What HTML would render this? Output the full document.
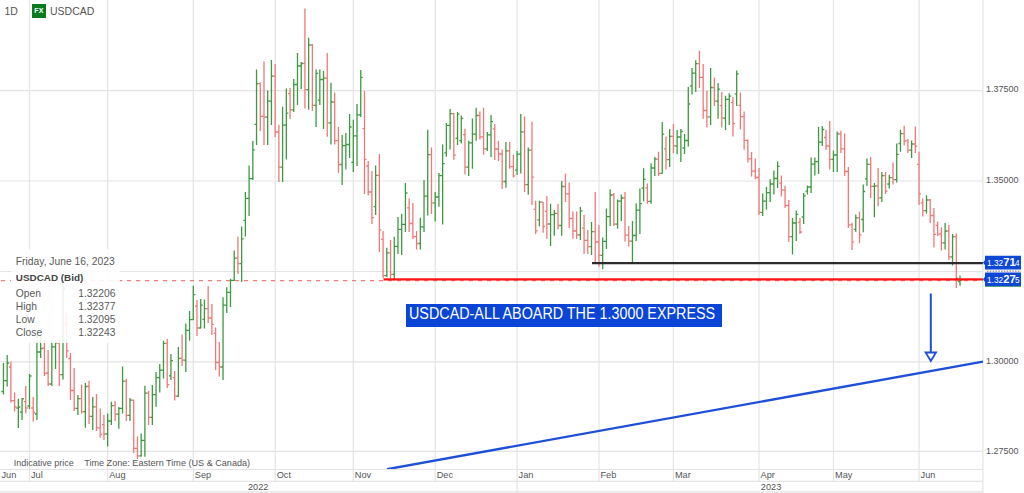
<!DOCTYPE html>
<html><head><meta charset="utf-8"><style>
html,body{margin:0;padding:0;background:#fff;}
body{width:1024px;height:493px;overflow:hidden;position:relative;font-family:"Liberation Sans",sans-serif;}
div{font-family:"Liberation Sans",sans-serif;}
</style></head><body>
<svg width="1024" height="493" viewBox="0 0 1024 493" style="position:absolute;left:0;top:0">
<rect x="0" y="490.9" width="983.5" height="2.1" fill="#ececec"/>
<path d="M29.5 0V481M107.7 0V481M193.3 0V481M275.2 0V481M353.3 0V481M435.2 0V481M517.1 0V481M599.0 0V481M673.4 0V481M759.0 0V481M833.5 0V481M919.1 0V481M0 90.6H982.9M0 181.0H982.9M0 271.5H982.9M0 361.9H982.9M0 451.4H982.9M0 469.5H982.9M0 481.4H982.9M982.9 0V492M517.1 481V492" stroke="#e4e4e4" stroke-width="1.2" fill="none"/>
<path d="M0 280.6H982.9" stroke="#f08080" stroke-width="1.4" stroke-dasharray="4.3 4.7" stroke-dashoffset="-0.9" fill="none"/>
<path d="M3.45 363.0V394.5M1.45 391.5H3.45M3.45 380.6H5.45M7.17 355.0V386.6M5.17 380.6H7.17M7.17 363.0H9.17M18.33 398.8V428.0M16.33 408.0H18.33M18.33 407.0H20.33M22.06 398.0V420.0M20.06 412.0H22.06M22.06 398.8H24.06M29.50 374.0V409.0M27.50 406.0H29.50M29.50 376.0H31.50M36.94 335.0V420.0M34.94 414.0H36.94M36.94 352.0H38.94M40.67 336.0V358.0M38.67 352.0H40.67M40.67 348.6H42.67M51.83 340.0V386.0M49.83 384.0H51.83M51.83 346.8H53.83M55.55 340.0V369.0M53.55 346.8H55.55M55.55 342.8H57.55M63.00 282.0V379.5M61.00 374.7H63.00M63.00 289.0H65.00M77.89 395.0V415.0M75.89 408.4H77.89M77.89 398.6H79.89M85.33 383.0V427.7M83.33 411.7H85.33M85.33 386.5H87.33M92.77 397.0V430.0M90.77 416.3H92.77M92.77 406.8H94.77M107.66 413.6V446.6M105.66 434.0H107.66M107.66 421.0H109.66M111.38 401.7V425.0M109.38 421.0H111.38M111.38 405.6H113.38M118.83 407.0V428.8M116.83 414.1H118.83M118.83 408.4H120.83M122.55 366.6V413.6M120.55 408.4H122.55M122.55 381.1H124.55M129.99 398.0V421.0M127.99 415.3H129.99M129.99 400.1H131.99M141.16 433.4V456.8M139.16 455.8H141.16M141.16 440.3H143.16M144.88 385.7V456.8M142.88 440.3H144.88M144.88 393.1H146.88M152.33 385.0V425.0M150.33 417.3H152.33M152.33 394.7H154.33M156.05 372.0V406.8M154.05 394.7H156.05M156.05 377.6H158.05M159.77 364.0V392.6M157.77 377.6H159.77M159.77 370.1H161.77M163.49 340.8V378.5M161.49 370.1H163.49M163.49 343.4H165.49M170.94 354.0V380.0M168.94 375.8H170.94M170.94 360.6H172.94M178.38 347.0V397.0M176.38 396.2H178.38M178.38 358.3H180.38M185.82 323.5V372.0M183.82 360.1H185.82M185.82 330.3H187.82M189.55 311.0V340.8M187.55 330.3H189.55M189.55 319.6H191.55M193.27 285.7V320.0M191.27 319.6H193.27M193.27 294.6H195.27M200.71 299.0V328.6M198.71 328.0H200.71M200.71 305.1H202.71M204.43 299.6V328.6M202.43 319.4H204.43M204.43 308.7H206.43M223.04 297.3V380.0M221.04 367.0H223.04M223.04 305.2H225.04M226.77 287.3V313.0M224.77 305.2H226.77M226.77 292.4H228.77M230.49 278.7V307.0M228.49 292.4H230.49M230.49 280.4H232.49M234.21 250.4V281.0M232.21 280.4H234.21M234.21 258.1H236.21M241.65 226.5V282.0M239.65 263.6H241.65M241.65 238.8H243.65M245.38 192.0V236.6M243.38 220.4H245.38M245.38 198.4H247.38M249.10 165.6V216.0M247.10 198.4H249.10M249.10 178.6H251.10M252.82 141.0V180.0M250.82 178.6H252.82M252.82 149.9H254.82M256.54 69.5V145.0M254.54 124.3H256.54M256.54 83.6H258.54M267.71 90.6V145.0M265.71 117.1H267.71M267.71 101.1H269.71M271.43 60.0V125.0M269.43 101.1H271.43M271.43 76.2H273.43M282.60 106.8V182.0M280.60 167.2H282.60M282.60 125.2H284.60M286.32 88.5V159.5M284.32 125.2H286.32M286.32 113.2H288.32M293.76 79.0V112.0M291.76 109.8H293.76M293.76 84.5H295.76M297.48 53.0V105.0M295.48 84.5H297.48M297.48 66.0H299.48M301.21 62.0V89.0M299.21 66.0H301.21M301.21 63.5H303.21M308.65 37.8V109.8M306.65 89.6H308.65M308.65 45.0H310.65M316.09 69.5V127.0M314.09 105.3H316.09M316.09 73.4H318.09M319.82 69.5V105.0M317.82 100.1H319.82M319.82 79.5H321.82M323.54 71.0V129.0M321.54 79.5H323.54M323.54 78.2H325.54M330.98 82.8V144.5M328.98 122.8H330.98M330.98 102.0H332.98M342.15 135.0V185.0M340.15 164.5H342.15M342.15 145.7H344.15M345.87 133.0V169.6M343.87 145.7H345.87M345.87 144.5H347.87M349.59 114.0V158.0M347.59 144.5H349.59M349.59 127.0H351.59M353.31 119.8V172.0M351.31 162.4H353.31M353.31 135.9H355.31M357.04 104.0V166.0M355.04 135.9H357.04M357.04 114.8H359.04M360.76 70.0V117.0M358.76 114.8H360.76M360.76 77.4H362.76M375.65 165.6V215.0M373.65 206.6H375.65M375.65 175.3H377.65M386.81 247.7V277.0M384.81 275.6H386.81M386.81 252.8H388.81M394.26 236.7V280.5M392.26 274.4H394.26M394.26 246.3H396.26M397.98 217.0V254.0M395.98 246.3H397.98M397.98 229.4H399.98M401.70 213.8V254.9M399.70 229.4H401.70M401.70 224.4H403.70M405.42 183.0V232.0M403.42 224.4H405.42M405.42 193.0H407.42M420.31 217.8V249.4M418.31 243.5H420.31M420.31 226.8H422.31M424.03 180.0V232.0M422.03 226.8H424.03M424.03 196.2H426.03M427.75 129.7V215.6M425.75 196.2H427.75M427.75 154.6H429.75M435.20 192.0V221.5M433.20 202.8H435.20M435.20 197.0H437.20M438.92 173.0V206.8M436.92 197.0H438.92M438.92 175.7H440.92M442.64 144.4V224.4M440.64 175.7H442.64M442.64 163.6H444.64M446.36 123.0V156.8M444.36 152.8H446.36M446.36 125.4H448.36M450.09 109.0V149.4M448.09 125.4H450.09M450.09 113.6H452.09M457.53 112.0V145.0M455.53 138.3H457.53M457.53 114.2H459.53M461.25 115.6V143.5M459.25 140.7H461.25M461.25 118.3H463.25M468.70 140.8V176.0M466.70 167.1H468.70M468.70 142.8H470.70M472.42 118.4V168.7M470.42 142.8H472.42M472.42 134.1H474.42M476.14 107.8V140.8M474.14 134.1H476.14M476.14 115.5H478.14M487.31 132.0V151.0M485.31 148.8H487.31M487.31 134.9H489.31M491.03 115.0V157.0M489.03 134.9H491.03M491.03 121.7H493.03M505.92 142.0V187.7M503.92 181.5H505.92M505.92 150.9H507.92M517.08 151.0V175.0M515.08 170.1H517.08M517.08 154.1H519.08M520.80 114.0V173.5M518.80 154.1H520.80M520.80 131.8H522.80M528.25 147.5V194.7M526.25 184.6H528.25M528.25 150.2H530.25M539.41 200.7V226.6M537.41 219.8H539.41M539.41 202.2H541.41M550.58 203.8V246.0M548.58 224.0H550.58M550.58 214.7H552.58M554.30 210.0V235.7M552.30 214.7H554.30M554.30 213.3H556.30M561.75 181.0V235.7M559.75 225.5H561.75M561.75 186.5H563.75M580.36 207.0V240.0M578.36 234.9H580.36M580.36 210.9H582.36M591.52 222.0V255.0M589.52 246.7H591.52M591.52 231.6H593.52M602.69 237.6V269.3M600.69 255.4H602.69M602.69 241.3H604.69M606.41 208.4V249.0M604.41 241.3H606.41M606.41 216.7H608.41M610.13 189.3V226.0M608.13 216.7H610.13M610.13 195.0H612.13M617.58 199.5V228.7M615.58 224.1H617.58M617.58 201.2H619.58M621.30 194.4V221.0M619.30 201.2H621.30M621.30 198.0H623.30M632.46 221.0V264.0M630.46 241.1H632.46M632.46 235.5H634.46M636.19 203.3V241.0M634.19 235.5H636.19M636.19 210.2H638.19M639.91 188.6V234.0M637.91 210.2H639.91M639.91 203.6H641.91M643.63 168.3V201.3M641.63 188.2H643.63M643.63 179.4H645.63M651.07 163.2V203.8M649.07 201.4H651.07M651.07 168.0H653.07M654.80 157.0V176.0M652.80 168.0H654.80M654.80 159.1H656.80M662.24 122.0V173.4M660.24 173.3H662.24M662.24 134.2H664.24M669.68 129.0V167.0M667.68 159.6H669.68M669.68 136.4H671.68M677.13 130.0V154.3M675.13 145.9H677.13M677.13 137.0H679.13M680.85 129.0V162.0M678.85 137.0H680.85M680.85 131.5H682.85M684.57 134.0V154.0M682.57 148.0H684.57M684.57 140.5H686.57M688.29 87.0V146.6M686.29 140.5H688.29M688.29 104.0H690.29M692.02 68.0V94.6M690.02 86.0H692.02M692.02 73.1H694.02M695.74 60.3V92.0M693.74 73.1H695.74M695.74 63.6H697.74M710.63 68.0V125.0M708.63 116.9H710.63M710.63 87.5H712.63M718.07 83.0V118.7M716.07 101.2H718.07M718.07 89.1H720.07M725.51 95.8V130.0M723.51 118.1H725.51M725.51 99.3H727.51M729.24 93.3V125.0M727.24 99.3H729.24M729.24 96.1H731.24M736.68 70.5V106.0M734.68 93.9H736.68M736.68 73.8H738.68M762.73 193.5V216.0M760.73 212.4H762.73M762.73 201.2H764.73M766.46 187.0V209.8M764.46 201.2H766.46M766.46 192.6H768.46M770.18 179.3V202.0M768.18 192.6H770.18M770.18 184.0H772.18M773.90 170.5V194.6M771.90 184.0H773.90M773.90 178.5H775.90M777.62 161.5V188.0M775.62 178.5H777.62M777.62 166.3H779.62M792.51 218.0V254.5M790.51 236.7H792.51M792.51 223.0H794.51M796.23 210.6V241.0M794.23 223.0H796.23M796.23 214.3H798.23M803.68 193.0V224.0M801.68 217.0H803.68M803.68 195.8H805.68M807.40 185.6V194.4M805.40 191.1H807.40M807.40 187.0H809.40M811.12 157.6V193.0M809.12 187.0H811.12M811.12 164.2H813.12M814.84 157.6V175.5M812.84 164.2H814.84M814.84 161.6H816.84M818.56 127.0V174.0M816.56 161.6H818.56M818.56 142.1H820.56M822.29 126.0V146.0M820.29 142.1H822.29M822.29 129.5H824.29M833.45 150.5V172.0M831.45 159.4H833.45M833.45 155.0H835.45M837.17 131.5V172.0M835.17 155.0H837.17M837.17 133.8H839.17M855.78 214.5V232.0M853.78 229.3H855.78M855.78 217.9H857.78M863.23 184.4V232.3M861.23 219.5H863.23M863.23 191.5H865.23M866.95 158.4V185.8M864.95 178.8H866.95M866.95 164.3H868.95M874.39 183.0V217.3M872.39 186.3H874.39M874.39 185.8H876.39M881.84 172.0V202.0M879.84 197.9H881.84M881.84 175.7H883.84M889.28 174.8V188.5M887.28 184.0H889.28M889.28 177.6H891.28M896.73 143.5V182.5M894.73 179.6H896.73M896.73 154.3H898.73M900.45 129.7V151.8M898.45 143.5H900.45M900.45 133.7H902.45M911.61 140.4V158.0M909.61 150.2H911.61M911.61 144.0H913.61M926.50 195.3V213.4M924.50 210.6H926.50M926.50 200.0H928.50M945.11 223.0V249.6M943.11 242.8H945.11M945.11 231.0H947.11M952.56 234.0V265.5M950.56 256.8H952.56M952.56 236.7H954.56M960.00 275.5V285.7M958.00 281.7H960.00M960.00 280.3H962.00" stroke="#3c9a40" stroke-width="1.3" fill="none"/>
<path d="M10.89 361.4V402.5M8.89 367.0H10.89M10.89 400.7H12.89M14.61 392.4V411.6M12.61 400.7H14.61M14.61 407.0H16.61M25.78 386.0V413.4M23.78 401.6H25.78M25.78 408.0H27.78M33.22 397.0V421.5M31.22 408.0H33.22M33.22 412.5H35.22M44.39 340.0V376.0M42.39 348.0H44.39M44.39 373.3H46.39M48.11 350.0V386.0M46.11 373.0H48.11M48.11 384.0H50.11M59.28 340.0V386.0M57.28 342.8H59.28M59.28 374.7H61.28M66.72 313.0V358.0M64.72 324.7H66.72M66.72 350.8H68.72M70.44 353.0V400.0M68.44 358.5H70.44M70.44 390.5H72.44M74.16 368.0V411.0M72.16 390.5H74.16M74.16 408.4H76.16M81.61 384.6V413.8M79.61 398.6H81.61M81.61 411.7H83.61M89.05 380.8V424.0M87.05 386.5H89.05M89.05 416.3H91.05M96.50 394.0V431.0M94.50 406.8H96.50M96.50 427.8H98.50M100.22 408.5V437.7M98.22 427.8H100.22M100.22 434.3H102.22M103.94 415.0V440.0M101.94 424.6H103.94M103.94 434.0H105.94M115.11 401.0V421.0M113.11 405.6H115.11M115.11 414.1H117.11M126.27 379.0V421.0M124.27 381.1H126.27M126.27 415.3H128.27M133.72 399.6V453.0M131.72 400.1H133.72M133.72 448.4H135.72M137.44 436.4V459.0M135.44 448.4H137.44M137.44 455.8H139.44M148.60 390.8V425.0M146.60 393.1H148.60M148.60 417.3H150.60M167.21 339.0V388.0M165.21 343.4H167.21M167.21 384.7H169.21M174.66 371.0V400.5M172.66 377.7H174.66M174.66 396.2H176.66M182.10 334.5V366.0M180.10 358.3H182.10M182.10 360.1H184.10M196.99 300.0V336.0M194.99 306.2H196.99M196.99 328.0H198.99M208.16 286.0V323.0M206.16 308.7H208.16M208.16 318.0H210.16M211.88 304.0V335.0M209.88 318.0H211.88M211.88 324.3H213.88M215.60 327.5V370.0M213.60 333.3H215.60M215.60 362.5H217.60M219.32 342.0V376.6M217.32 362.5H219.32M219.32 367.0H221.32M237.93 236.6V274.0M235.93 258.1H237.93M237.93 263.6H239.93M260.26 82.5V131.0M258.26 83.6H260.26M260.26 116.4H262.26M263.99 61.4V145.0M261.99 116.4H263.99M263.99 117.1H265.99M275.15 64.0V137.0M273.15 76.2H275.15M275.15 132.0H277.15M278.87 125.0V182.0M276.87 132.0H278.87M278.87 167.2H280.87M290.04 88.0V119.0M288.04 93.7H290.04M290.04 109.8H292.04M304.93 8.5V108.5M302.93 63.5H304.93M304.93 89.6H306.93M312.37 44.0V111.0M310.37 45.0H312.37M312.37 105.3H314.37M327.26 53.0V136.8M325.26 78.2H327.26M327.26 122.8H329.26M334.70 92.5V144.5M332.70 102.0H334.70M334.70 140.6H336.70M338.43 127.0V173.0M336.43 140.6H338.43M338.43 164.5H340.43M364.48 91.0V194.0M362.48 128.6H364.48M364.48 159.3H366.48M368.20 161.0V195.5M366.20 166.0H368.20M368.20 192.0H370.20M371.92 171.0V224.0M369.92 192.0H371.92M371.92 217.7H373.92M379.37 154.0V252.0M377.37 175.3H379.37M379.37 229.8H381.37M383.09 231.0V278.0M381.09 239.4H383.09M383.09 275.6H385.09M390.53 240.0V281.0M388.53 252.8H390.53M390.53 274.4H392.53M409.14 198.3V232.0M407.14 207.9H409.14M409.14 223.5H411.14M412.87 203.0V239.0M410.87 223.5H412.87M412.87 236.6H414.87M416.59 231.0V249.4M414.59 236.6H416.59M416.59 243.5H418.59M431.48 147.4V214.0M429.48 154.6H431.48M431.48 202.8H433.48M453.81 113.0V159.7M451.81 113.6H453.81M453.81 155.1H455.81M464.97 128.8V174.4M462.97 134.7H464.97M464.97 167.1H466.97M479.86 111.6V139.5M477.86 115.5H479.86M479.86 136.9H481.86M483.58 107.8V154.7M481.58 136.9H483.58M483.58 148.8H485.58M494.75 124.0V160.0M492.75 128.9H494.75M494.75 149.0H496.75M498.47 140.8V161.0M496.47 149.0H498.47M498.47 154.0H500.47M502.19 149.6V189.0M500.19 154.0H502.19M502.19 181.5H504.19M509.64 142.0V168.7M507.64 150.9H509.64M509.64 166.7H511.64M513.36 154.7V177.6M511.36 166.7H513.36M513.36 175.8H515.36M524.53 116.5V192.0M522.53 131.8H524.53M524.53 184.6H526.53M531.97 121.7V205.0M529.97 150.2H531.97M531.97 177.1H533.97M535.69 200.7V234.0M533.69 209.3H535.69M535.69 230.9H537.69M543.14 202.0V232.7M541.14 202.2H543.14M543.14 226.3H545.14M546.86 196.0V238.7M544.86 211.3H546.86M546.86 224.0H548.86M558.02 203.8V229.6M556.02 213.3H558.02M558.02 225.5H560.02M565.47 173.4V202.0M563.47 186.5H565.47M565.47 193.9H567.47M569.19 182.5V228.0M567.19 193.9H569.19M569.19 218.5H571.19M572.91 211.4V238.7M570.91 218.5H572.91M572.91 231.0H574.91M576.63 211.4V239.0M574.63 231.0H576.63M576.63 234.9H578.63M584.08 214.7V254.0M582.08 228.2H584.08M584.08 240.4H586.08M587.80 230.0V254.0M585.80 240.4H587.80M587.80 246.7H589.80M595.24 192.0V263.0M593.24 231.6H595.24M595.24 242.0H597.24M598.97 225.0V266.8M596.97 242.0H598.97M598.97 255.4H600.97M613.85 193.0V226.0M611.85 195.0H613.85M613.85 224.1H615.85M625.02 192.0V241.4M623.02 198.0H625.02M625.02 235.1H627.02M628.74 226.0V246.4M626.74 235.1H628.74M628.74 241.1H630.74M647.35 183.5V203.8M645.35 187.8H647.35M647.35 201.4H649.35M658.52 151.8V176.0M656.52 159.1H658.52M658.52 173.3H660.52M665.96 136.6V169.6M663.96 148.8H665.96M665.96 159.6H667.96M673.41 124.0V153.0M671.41 136.4H673.41M673.41 145.9H675.41M699.46 50.7V88.0M697.46 63.6H699.46M699.46 77.3H701.46M703.18 64.0V118.7M701.18 77.3H703.18M703.18 110.5H705.18M706.90 90.8V127.6M704.90 110.5H706.90M706.90 116.9H708.90M714.35 77.6V106.0M712.35 87.5H714.35M714.35 101.2H716.35M721.79 92.0V127.6M719.79 105.7H721.79M721.79 118.1H723.79M732.96 97.0V136.4M730.96 102.7H732.96M732.96 123.7H734.96M740.40 92.6V129.4M738.40 105.4H740.40M740.40 116.7H742.40M744.12 111.6V149.7M742.12 116.7H744.12M744.12 140.3H746.12M747.85 139.6V162.4M745.85 140.3H747.85M747.85 158.9H749.85M751.57 152.0V176.4M749.57 158.9H751.57M751.57 171.2H753.57M755.29 158.6V179.3M753.29 171.2H755.29M755.29 177.5H757.29M759.01 168.0V215.0M757.01 177.5H759.01M759.01 212.4H761.01M781.34 175.5V196.5M779.34 183.1H781.34M781.34 190.2H783.34M785.07 185.7V208.0M783.07 190.2H785.07M785.07 205.5H787.07M788.79 200.0V242.0M786.79 205.5H788.79M788.79 236.7H790.79M799.95 218.0V234.0M797.95 222.4H799.95M799.95 232.0H801.95M826.01 130.0V150.0M824.01 137.5H826.01M826.01 146.0H828.01M829.73 121.0V169.6M827.73 146.0H829.73M829.73 159.4H831.73M840.90 130.7V153.0M838.90 133.8H840.90M840.90 148.9H842.90M844.62 133.5V176.0M842.62 148.9H844.62M844.62 171.5H846.62M848.34 167.0V228.0M846.34 171.5H848.34M848.34 224.9H850.34M852.06 222.7V250.0M850.06 224.9H852.06M852.06 242.1H854.06M859.51 211.8V243.3M857.51 217.9H859.51M859.51 234.9H861.51M870.67 157.0V198.0M868.67 164.3H870.67M870.67 186.3H872.67M878.12 168.0V206.3M876.12 185.8H878.12M878.12 197.9H880.12M885.56 172.0V194.0M883.56 175.7H885.56M885.56 191.1H887.56M893.00 162.5V184.4M891.00 177.6H893.00M893.00 179.6H895.00M904.17 125.7V145.5M902.17 133.7H904.17M904.17 140.9H906.17M907.89 139.0V153.0M905.89 140.9H907.89M907.89 150.2H909.89M915.34 126.4V153.0M913.34 144.0H915.34M915.34 146.1H917.34M919.06 151.8V205.0M917.06 164.3H919.06M919.06 193.8H921.06M922.78 198.5V216.6M920.78 202.9H922.78M922.78 210.6H924.78M930.22 199.0V223.0M928.22 200.0H930.22M930.22 215.5H932.22M933.95 208.0V247.4M931.95 215.5H933.95M933.95 234.3H935.95M937.67 221.5V236.0M935.67 225.4H937.67M937.67 234.1H939.67M941.39 227.2V250.6M939.39 234.1H941.39M941.39 242.8H943.39M948.83 225.0V260.0M946.83 231.0H948.83M948.83 256.8H950.83M956.28 233.6V288.0M954.28 236.7H956.28M956.28 278.1H958.28" stroke="#f07878" stroke-width="1.3" fill="none"/>
</svg>
<div style="position:absolute;left:10.5px;top:249px;width:109.5px;height:94px;background:rgba(255,255,255,0.88)"></div><div style="position:absolute;left:15.8px;top:256.5px;font-size:10.3px;color:#5a5a5a;white-space:nowrap;line-height:1;">Friday, June 16, 2023</div><div style="position:absolute;left:15.8px;top:273.2px;font-size:9.9px;color:#444;white-space:nowrap;line-height:1;font-weight:bold;">USDCAD (Bid)</div><div style="position:absolute;left:15.8px;top:288.9px;font-size:10.3px;color:#5a5a5a;white-space:nowrap;line-height:1;">Open</div><div style="position:absolute;left:60px;width:55.5px;top:288.9px;font-size:10.3px;color:#5a5a5a;text-align:right;line-height:1;white-space:nowrap">1.32206</div><div style="position:absolute;left:15.8px;top:301.84999999999997px;font-size:10.3px;color:#5a5a5a;white-space:nowrap;line-height:1;">High</div><div style="position:absolute;left:60px;width:55.5px;top:301.84999999999997px;font-size:10.3px;color:#5a5a5a;text-align:right;line-height:1;white-space:nowrap">1.32377</div><div style="position:absolute;left:15.8px;top:314.79999999999995px;font-size:10.3px;color:#5a5a5a;white-space:nowrap;line-height:1;">Low</div><div style="position:absolute;left:60px;width:55.5px;top:314.79999999999995px;font-size:10.3px;color:#5a5a5a;text-align:right;line-height:1;white-space:nowrap">1.32095</div><div style="position:absolute;left:15.8px;top:327.75px;font-size:10.3px;color:#5a5a5a;white-space:nowrap;line-height:1;">Close</div><div style="position:absolute;left:60px;width:55.5px;top:327.75px;font-size:10.3px;color:#5a5a5a;text-align:right;line-height:1;white-space:nowrap">1.32243</div>
<svg width="1024" height="493" viewBox="0 0 1024 493" style="position:absolute;left:0;top:0">
<path d="M592 263.2H982.9" stroke="#2b2b2b" stroke-width="2.2" fill="none"/>
<path d="M383.5 279.4H982.9" stroke="#ff1414" stroke-width="2.4" fill="none"/>
<defs><clipPath id="cp"><rect x="0" y="0" width="983.5" height="469"/></clipPath></defs>
<path d="M387 469.2L983 361.6" stroke="#1f4fd8" stroke-width="2.4" fill="none" clip-path="url(#cp)"/>
<path d="M930.8 293.5V352.5" stroke="#1f4fd8" stroke-width="2" fill="none"/>
<path d="M925.6 352.5H936L930.8 361Z" stroke="#1f4fd8" stroke-width="1.8" fill="#fff" stroke-linejoin="miter"/>
<path d="M985 255.7H1021V269.5H985V265.2L983 262.59999999999997L985 260.0Z" fill="#0d47d6"/>
<path d="M985 272.4H1021V286.2H985V281.9L983 279.29999999999995L985 276.7Z" fill="#0d47d6"/>
<path d="M987 271.1H1021" stroke="#8c8c8c" stroke-width="1.2" stroke-dasharray="1.6 1.2"/>
<path d="M985 286.4H1021" stroke="#2a8a5a" stroke-width="0.8"/>
</svg>
<div style="position:absolute;left:4.5px;top:6.2px;font-size:10.5px;color:#555;white-space:nowrap;line-height:1;">1D</div><div style="position:absolute;left:32px;top:4px;width:14px;height:14px;background:#0b7a1f;color:#fff;font-size:7px;font-weight:bold;line-height:14px;text-align:center;letter-spacing:0.3px">FX</div><div style="position:absolute;left:50px;top:6.2px;font-size:10.5px;color:#555;white-space:nowrap;line-height:1;">USDCAD</div><div style="position:absolute;left:986px;top:85.2px;font-size:9px;color:#555;white-space:nowrap;line-height:1;">1.37500</div><div style="position:absolute;left:986px;top:175.7px;font-size:9px;color:#555;white-space:nowrap;line-height:1;">1.35000</div><div style="position:absolute;left:986px;top:356.7px;font-size:9px;color:#555;white-space:nowrap;line-height:1;">1.30000</div><div style="position:absolute;left:986px;top:447.2px;font-size:9px;color:#555;white-space:nowrap;line-height:1;">1.27500</div><div style="position:absolute;left:1.5px;top:470.8px;font-size:9.2px;color:#555;white-space:nowrap;line-height:1;">Jun</div><div style="position:absolute;left:31.0px;top:470.8px;font-size:9.2px;color:#555;white-space:nowrap;line-height:1;">Jul</div><div style="position:absolute;left:109.2px;top:470.8px;font-size:9.2px;color:#555;white-space:nowrap;line-height:1;">Aug</div><div style="position:absolute;left:194.8px;top:470.8px;font-size:9.2px;color:#555;white-space:nowrap;line-height:1;">Sep</div><div style="position:absolute;left:276.7px;top:470.8px;font-size:9.2px;color:#555;white-space:nowrap;line-height:1;">Oct</div><div style="position:absolute;left:354.8px;top:470.8px;font-size:9.2px;color:#555;white-space:nowrap;line-height:1;">Nov</div><div style="position:absolute;left:436.7px;top:470.8px;font-size:9.2px;color:#555;white-space:nowrap;line-height:1;">Dec</div><div style="position:absolute;left:518.6px;top:470.8px;font-size:9.2px;color:#555;white-space:nowrap;line-height:1;">Jan</div><div style="position:absolute;left:600.5px;top:470.8px;font-size:9.2px;color:#555;white-space:nowrap;line-height:1;">Feb</div><div style="position:absolute;left:674.9px;top:470.8px;font-size:9.2px;color:#555;white-space:nowrap;line-height:1;">Mar</div><div style="position:absolute;left:760.5px;top:470.8px;font-size:9.2px;color:#555;white-space:nowrap;line-height:1;">Apr</div><div style="position:absolute;left:835.0px;top:470.8px;font-size:9.2px;color:#555;white-space:nowrap;line-height:1;">May</div><div style="position:absolute;left:920.6px;top:470.8px;font-size:9.2px;color:#555;white-space:nowrap;line-height:1;">Jun</div><div style="position:absolute;left:248px;top:482.8px;font-size:9.2px;color:#555;white-space:nowrap;line-height:1;">2022</div><div style="position:absolute;left:760.8px;top:482.6px;font-size:9.2px;color:#555;white-space:nowrap;line-height:1;">2023</div><div style="position:absolute;left:13.8px;top:459.2px;font-size:9.0px;color:#555;white-space:nowrap;line-height:1;">Indicative price</div><div style="position:absolute;left:84.2px;top:459.2px;font-size:9.1px;color:#555;white-space:nowrap;line-height:1;">Time Zone: Eastern Time (US &amp; Canada)</div>
<div style="position:absolute;left:405.5px;top:304px;width:316px;height:23px;background:#0a45d8"></div><div style="position:absolute;left:409.3px;top:306.3px;font-size:15.8px;color:#fff;white-space:nowrap;line-height:1;transform:scaleX(0.908);transform-origin:0 0;">USDCAD-ALL ABOARD THE 1.3000 EXPRESS</div>
<div style="position:absolute;left:0;top:0;width:1021px;height:493px;overflow:hidden"><div style="position:absolute;left:987.3px;top:258.37px;font-size:9.6px;color:#fff;white-space:nowrap;line-height:1;transform:scaleX(0.86);transform-origin:0 0;">1.32</div><div style="position:absolute;left:1003.3px;top:257.02px;font-size:11.2px;color:#fff;white-space:nowrap;line-height:1;font-weight:bold;">71</div><div style="position:absolute;left:1015.4px;top:258.37px;font-size:9.6px;color:#fff;white-space:nowrap;line-height:1;transform:scaleX(0.86);transform-origin:0 0;">4</div><div style="position:absolute;left:987.3px;top:275.07px;font-size:9.6px;color:#fff;white-space:nowrap;line-height:1;transform:scaleX(0.86);transform-origin:0 0;">1.32</div><div style="position:absolute;left:1003.3px;top:273.72px;font-size:11.2px;color:#fff;white-space:nowrap;line-height:1;font-weight:bold;">27</div><div style="position:absolute;left:1015.4px;top:275.07px;font-size:9.6px;color:#fff;white-space:nowrap;line-height:1;transform:scaleX(0.86);transform-origin:0 0;">5</div></div>
</body></html>
